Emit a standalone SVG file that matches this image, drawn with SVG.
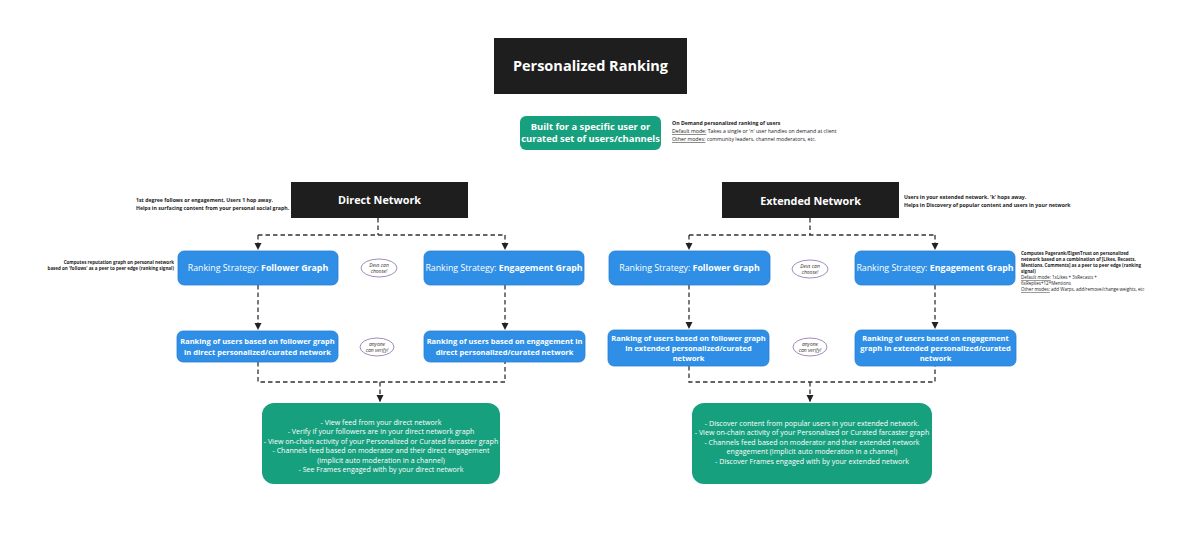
<svg xmlns="http://www.w3.org/2000/svg" width="1200" height="537" viewBox="0 0 1200 537">
<defs>
<marker id="ah" markerWidth="8" markerHeight="8" refX="7" refY="4" orient="auto" markerUnits="userSpaceOnUse">
<path d="M0,0.5 L7,4 L0,7.5 Z" fill="#222"/>
</marker>
<style>
text{font-family:"Open Sans","Noto Sans","Liberation Sans",sans-serif;}
.blk{fill:#1e1e1e;}
.blue{fill:#2f8fe6;stroke:#2a7fd0;stroke-width:0.8;}
.grn{fill:#17a07e;}
.wt{fill:#fff;text-anchor:middle;}
.conn{fill:none;stroke:#333;stroke-width:1.3;stroke-dasharray:4.5,3;}
.note{font-size:5.2px;fill:#222;}
.ns{font-size:4.5px;}
.nb{font-weight:bold;}
.oval{fill:#fff;stroke:#8a6fa8;stroke-width:0.8;}
.ot{font-size:5px;font-style:italic;fill:#333;text-anchor:middle;}
.st{font-size:8.8px;}
.rk{font-size:7.5px;font-weight:bold;}
.bt{font-size:7.1px;}
.hd{font-size:10.8px;font-weight:bold;}
</style>
</defs>

<g id="connectors">
<path class="conn" d="M378,218 V235 M258,235 H505"/>
<path class="conn" d="M258,235 V250" marker-end="url(#ah)"/>
<path class="conn" d="M505,235 V250" marker-end="url(#ah)"/>
<path class="conn" d="M258,285 V330" marker-end="url(#ah)"/>
<path class="conn" d="M505,285 V330" marker-end="url(#ah)"/>
<path class="conn" d="M258,362 V382 H505 V362"/>
<path class="conn" d="M380,382 V402" marker-end="url(#ah)"/>

<path class="conn" d="M810,218 V235 M689,235 H935"/>
<path class="conn" d="M689,235 V250" marker-end="url(#ah)"/>
<path class="conn" d="M935,235 V250" marker-end="url(#ah)"/>
<path class="conn" d="M689,285 V329" marker-end="url(#ah)"/>
<path class="conn" d="M935,285 V329" marker-end="url(#ah)"/>
<path class="conn" d="M689,366 V382 H935 V366"/>
<path class="conn" d="M810,382 V402" marker-end="url(#ah)"/>
</g>

<g id="title">
<rect class="blk" x="494" y="38" width="193" height="56"/>
<text class="wt" x="590.5" y="71" font-size="14.5" font-weight="bold">Personalized Ranking</text>
</g>

<g id="built-for">
<rect class="grn" x="520" y="116" width="141" height="34" rx="6"/>
<text class="wt" x="590.5" y="129.5" font-size="9.4" font-weight="bold">Built for a specific user or</text>
<text class="wt" x="590.5" y="142" font-size="9.4" font-weight="bold">curated set of users/channels</text>
</g>

<g id="on-demand-note">
<text class="note nb" x="672" y="125" font-size="4.7">On Demand personalized ranking of users</text>
<text class="note" x="672" y="133" font-size="4.7"><tspan text-decoration="underline">Default mode:</tspan> Takes a single or 'n' user handles on demand at client</text>
<text class="note" x="672" y="141" font-size="4.7"><tspan text-decoration="underline">Other modes:</tspan> community leaders, channel moderators, etc.</text>
</g>

<g id="direct-network">
<rect class="blk" x="291" y="182" width="177" height="36"/>
<text class="wt hd" x="379.5" y="203.5">Direct Network</text>
</g>
<g id="direct-note">
<text class="note nb" x="136" y="202">1st degree follows or engagement, Users 1 hop away.</text>
<text class="note nb" x="136" y="210">Helps in surfacing content from your personal social graph.</text>
</g>

<g id="extended-network">
<rect class="blk" x="722" y="182" width="177" height="36"/>
<text class="wt hd" x="810.5" y="204.5">Extended Network</text>
</g>
<g id="extended-note">
<text class="note nb" x="904" y="199">Users in your extended network. 'k' hops away.</text>
<text class="note nb" x="904" y="207">Helps in Discovery of popular content and users in your network</text>
</g>

<g id="direct-follower-strategy">
<rect class="blue" x="178" y="251" width="160" height="34" rx="6"/>
<text class="wt st" x="258" y="271">Ranking Strategy: <tspan font-weight="bold">Follower Graph</tspan></text>
</g>
<g id="direct-follower-note">
<text class="note nb ns" x="174" y="264" text-anchor="end">Computes reputation graph on personal network</text>
<text class="note nb ns" x="174" y="270" text-anchor="end">based on 'follows' as a peer to peer edge (ranking signal)</text>
</g>
<g id="direct-devs-choose">
<ellipse class="oval" cx="379" cy="268" rx="18" ry="9"/>
<text class="ot" x="379" y="266.5">Devs can</text>
<text class="ot" x="379" y="272.5">choose!</text>
</g>
<g id="direct-engagement-strategy">
<rect class="blue" x="424" y="251" width="160" height="34" rx="6"/>
<text class="wt st" x="504" y="271">Ranking Strategy: <tspan font-weight="bold">Engagement Graph</tspan></text>
</g>

<g id="direct-follower-ranking">
<rect class="blue" x="177" y="331" width="161" height="31" rx="6"/>
<text class="wt rk" x="257.5" y="344">Ranking of users based on follower graph</text>
<text class="wt rk" x="257.5" y="354.5">in direct personalized/curated network</text>
</g>
<g id="direct-anyone-verify">
<ellipse class="oval" cx="377" cy="347" rx="17" ry="9"/>
<text class="ot" x="377" y="345.5">anyone</text>
<text class="ot" x="377" y="351.5">can verify!</text>
</g>
<g id="direct-engagement-ranking">
<rect class="blue" x="424" y="331" width="161" height="31" rx="6"/>
<text class="wt rk" x="504.5" y="344">Ranking of users based on engagement in</text>
<text class="wt rk" x="504.5" y="354.5">direct personalized/curated network</text>
</g>

<g id="direct-outcomes">
<rect class="grn" x="262" y="403" width="238" height="81" rx="12"/>
<text class="wt bt" x="381" y="424.5">- View feed from your direct network</text>
<text class="wt bt" x="381" y="434">- Verify if your followers are in your direct network graph</text>
<text class="wt bt" x="381" y="443.5">- View on-chain activity of your Personalized or Curated farcaster graph</text>
<text class="wt bt" x="381" y="453">- Channels feed based on moderator and their direct engagement</text>
<text class="wt bt" x="381" y="462.5">(implicit auto moderation in a channel)</text>
<text class="wt bt" x="381" y="472">- See Frames engaged with by your direct network</text>
</g>

<g id="extended-follower-strategy">
<rect class="blue" x="609" y="251" width="161" height="34" rx="6"/>
<text class="wt st" x="689.5" y="271">Ranking Strategy: <tspan font-weight="bold">Follower Graph</tspan></text>
</g>
<g id="extended-devs-choose">
<ellipse class="oval" cx="810" cy="269" rx="18" ry="9"/>
<text class="ot" x="810" y="267.5">Devs can</text>
<text class="ot" x="810" y="273.5">choose!</text>
</g>
<g id="extended-engagement-strategy">
<rect class="blue" x="855" y="251" width="160" height="34" rx="6"/>
<text class="wt st" x="935" y="271">Ranking Strategy: <tspan font-weight="bold">Engagement Graph</tspan></text>
</g>
<g id="extended-engagement-note">
<text class="note nb ns" x="1021" y="254.5">Computes Pagerank/EigenTrust on personalized</text>
<text class="note nb ns" x="1021" y="260.5">network based on a combination of [Likes, Recasts,</text>
<text class="note nb ns" x="1021" y="266.5">Mentions, Comments] as a peer to peer edge (ranking</text>
<text class="note nb ns" x="1021" y="272.5">signal)</text>
<text class="note ns" x="1021" y="279"><tspan text-decoration="underline">Default mode:</tspan> 1xLikes + 3xRecasts +</text>
<text class="note ns" x="1021" y="285">6xReplies+12*Mentions</text>
<text class="note ns" x="1021" y="291"><tspan text-decoration="underline">Other modes:</tspan> add Warps, add/remove/change weights, etc</text>
</g>

<g id="extended-follower-ranking">
<rect class="blue" x="608" y="330" width="161" height="36" rx="6"/>
<text class="wt rk" x="688.5" y="340.5">Ranking of users based on follower graph</text>
<text class="wt rk" x="688.5" y="350.5">in extended personalized/curated</text>
<text class="wt rk" x="688.5" y="360.5">network</text>
</g>
<g id="extended-anyone-verify">
<ellipse class="oval" cx="810" cy="347" rx="17" ry="9"/>
<text class="ot" x="810" y="345.5">anyone</text>
<text class="ot" x="810" y="351.5">can verify!</text>
</g>
<g id="extended-engagement-ranking">
<rect class="blue" x="855" y="330" width="161" height="36" rx="6"/>
<text class="wt rk" x="935.5" y="340.5">Ranking of users based on engagement</text>
<text class="wt rk" x="935.5" y="350.5">graph in extended personalized/curated</text>
<text class="wt rk" x="935.5" y="360.5">network</text>
</g>

<g id="extended-outcomes">
<rect class="grn" x="692" y="403" width="240" height="81" rx="12"/>
<text class="wt bt" x="812" y="425.5">- Discover content from popular users in your extended network.</text>
<text class="wt bt" x="812" y="435">- View on-chain activity of your Personalized or Curated farcaster graph</text>
<text class="wt bt" x="812" y="444.5">- Channels feed based on moderator and their extended network</text>
<text class="wt bt" x="812" y="454">engagement (implicit auto moderation in a channel)</text>
<text class="wt bt" x="812" y="463.5">- Discover Frames engaged with by your extended network</text>
</g>
</svg>
